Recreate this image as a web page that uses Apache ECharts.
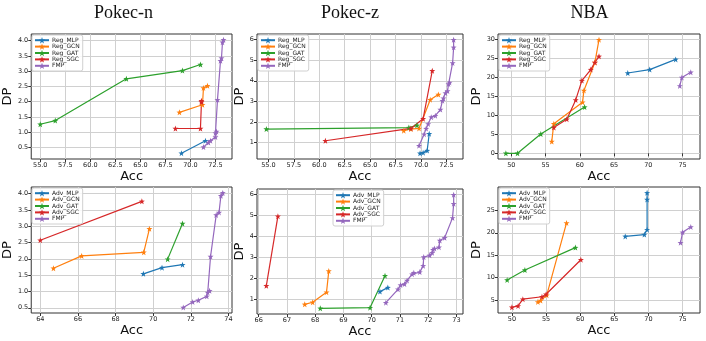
<!DOCTYPE html>
<html><head><meta charset="utf-8">
<script src="https://cdn.jsdelivr.net/npm/echarts@6/dist/echarts.min.js"></script>
<style>html,body{margin:0;padding:0;background:#fff}#c{width:706px;height:341px}</style>
</head><body><div id="c"></div>
<script>
// ---------- data ----------
const titles = ['Pokec-n', 'Pokec-z', 'NBA'];
const regNames = ['Reg_MLP', 'Reg_GCN', 'Reg_GAT', 'Reg_SGC', 'FMP'];
const advNames = ['Adv_MLP', 'Adv_GCN', 'Adv_GAT', 'Adv_SGC', 'FMP'];

// Pokec-n, regularization
const pn_reg_mlp = [[69.1,0.31],[71.5,0.72]];
const pn_reg_gcn = [[68.9,1.65],[71.2,1.90],[71.3,2.45],[71.7,2.52]];
const pn_reg_gat = [[55.0,1.26],[56.5,1.38],[63.6,2.75],[69.2,3.02],[71.0,3.22]];
const pn_reg_sgc = [[68.5,1.12],[71.0,1.12],[71.1,1.99],[71.1,2.03]];
const pn_fmp = [[71.3,0.51],[71.8,0.66],[72.0,0.72],[72.5,0.84],[72.5,0.97],[72.6,1.02],[72.7,2.06],[73.0,3.34],[73.1,3.43],[73.2,3.95],[73.3,4.03]];

// Pokec-z, regularization
const pz_reg_mlp = [[69.9,0.47],[70.2,0.50],[70.6,0.60],[70.8,1.42]];
const pz_reg_gcn = [[68.3,1.57],[69.0,1.65],[69.8,1.68],[70.9,3.08],[71.7,3.33]];
const pz_reg_gat = [[54.8,1.65],[68.8,1.72],[69.6,1.83]];
const pz_reg_sgc = [[60.6,1.08],[69.0,1.68],[70.2,2.15],[71.1,4.49]];
const pz_fmp_top = [[69.8,0.84],[70.3,1.40],[70.5,1.67],[70.7,1.90],[71.0,2.23],[71.4,2.30],[71.9,2.60],[72.1,3.03],[72.2,3.15],[72.4,3.40],[72.6,3.50],[72.7,3.84],[72.8,3.92],[73.1,4.87],[73.2,5.63],[73.2,6.00]];

// NBA, regularization
const nba_reg_mlp = [[67.0,21.2],[70.2,22.1],[74.0,24.8]];
const nba_reg_gcn = [[55.9,3.1],[56.2,7.8],[60.4,13.5],[60.6,16.6],[62.2,24.0],[62.8,30.0]];
const nba_reg_gat = [[49.2,0.0],[50.9,0.0],[54.3,5.1],[60.7,12.2]];
const nba_reg_sgc = [[56.2,6.8],[58.1,9.0],[59.4,14.1],[60.3,19.2],[61.6,22.1],[62.2,24.0],[62.8,25.6]];
const nba_fmp_top = [[74.6,17.8],[74.9,20.0],[76.2,21.4]];

// Pokec-n, adversarial
const pn_adv_mlp = [[69.48,1.54],[70.47,1.73],[71.56,1.82]];
const pn_adv_gcn = [[64.7,1.71],[66.2,2.09],[69.5,2.20],[69.8,2.92]];
const pn_adv_gat = [[70.77,1.99],[71.56,3.08]];
const pn_adv_sgc = [[64.0,2.57],[69.4,3.76]];
const pn_fmp_bot = [[71.6,0.51],[72.1,0.68],[72.4,0.73],[72.85,0.85],[72.9,0.97],[73.0,1.02],[73.05,2.07],[73.35,3.34],[73.5,3.42],[73.6,3.93],[73.7,4.02]];

// Pokec-z, adversarial
const pz_adv_mlp = [[70.29,1.37],[70.57,1.56]];
const pz_adv_gcn = [[67.63,0.76],[67.91,0.86],[68.40,1.34],[68.48,2.35]];
const pz_adv_gat = [[68.18,0.57],[69.94,0.60],[70.47,2.13]];
const pz_adv_sgc = [[66.27,1.65],[66.68,4.97]];
const pz_fmp_bot = [[70.5,0.84],[70.93,1.48],[71.02,1.68],[71.16,1.73],[71.25,1.90],[71.43,2.20],[71.49,2.27],[71.70,2.30],[71.82,2.60],[71.84,3.02],[72.05,3.10],[72.14,3.22],[72.17,3.37],[72.22,3.43],[72.38,3.49],[72.41,3.81],[72.58,3.94],[72.86,4.89],[72.90,5.57],[72.90,6.00]];

// NBA, adversarial
const nba_adv_mlp = [[66.6,19.2],[69.4,19.6],[69.8,20.7],[69.8,27.4],[69.8,28.9]];
const nba_adv_gcn = [[53.8,4.6],[54.2,4.9],[55.1,6.1],[58.0,22.2]];
const nba_adv_gat = [[49.3,9.5],[51.9,11.7],[59.3,16.7]];
const nba_adv_sgc = [[50.0,3.4],[50.9,3.7],[51.6,5.2],[54.4,5.75],[55.0,6.3],[60.1,14.0]];
const nba_fmp_bot = [[74.7,17.8],[75.0,20.1],[76.2,21.3]];

// tick labels
const xt_pn_top = [55.0,57.5,60.0,62.5,65.0,67.5,70.0,72.5];
const yt_pn = [0.5,1.0,1.5,2.0,2.5,3.0,3.5,4.0];
const xt_pz_top = [55.0,57.5,60.0,62.5,65.0,67.5,70.0,72.5];
const yt_pz = [1,2,3,4,5,6];
const xt_nba = [50,55,60,65,70,75];
const yt_nba_top = [0,5,10,15,20,25,30];
const xt_pn_bot = [64,66,68,70,72,74];
const xt_pz_bot = [66,67,68,69,70,71,72,73];
const yt_nba_bot = [5,10,15,20,25];

// ---------- styling / layout ----------
const colors = ['#1f77b4','#ff7f0e','#2ca02c','#d62728','#9467bd'];
function starPath(){
  let p = [];
  for (let i=0;i<10;i++){
    const r = i%2===0 ? 50 : 20;
    const a = -Math.PI/2 + i*Math.PI/5;
    p.push((i===0?'M':'L') + (50 + r*Math.cos(a)).toFixed(2) + ' ' + (50 + r*Math.sin(a)).toFixed(2));
  }
  return 'path://' + p.join(' ') + ' Z';
}
const STAR = starPath();

const panels = [
  {grid:{left:31,top:34,width:201,height:125}, x:[54.1,74.15], y:[0.12,4.22], xt:xt_pn_top, yt:yt_pn, xd:1, yd:1, ng:9,
   data:[pn_reg_mlp,pn_reg_gcn,pn_reg_gat,pn_reg_sgc,pn_fmp], names:regNames, leg:{left:32,top:35}},
  {grid:{left:257,top:34,width:206,height:125}, x:[53.88,74.12], y:[0.19,6.28], xt:xt_pz_top, yt:yt_pz, xd:1, yd:0, ng:5,
   data:[pz_reg_mlp,pz_reg_gcn,pz_reg_gat,pz_reg_sgc,pz_fmp_top], names:regNames, leg:{left:258,top:35}},
  {grid:{left:498,top:34,width:202,height:125}, x:[48.05,77.55], y:[-1.5,31.5], xt:xt_nba, yt:yt_nba_top, xd:0, yd:0, ng:9,
   data:[nba_reg_mlp,nba_reg_gcn,nba_reg_gat,nba_reg_sgc,nba_fmp_top], names:regNames, leg:{left:499,top:35}},
  {grid:{left:31,top:187,width:201,height:126}, x:[63.52,74.19], y:[0.34,4.2], xt:xt_pn_bot, yt:yt_pn, xd:0, yd:1, ng:9,
   data:[pn_adv_mlp,pn_adv_gcn,pn_adv_gat,pn_adv_sgc,pn_fmp_bot], names:advNames, leg:{left:32,top:188}},
  {grid:{left:257,top:189,width:206,height:125}, x:[65.94,73.23], y:[0.3,6.27], xt:xt_pz_bot, yt:yt_pz, xd:0, yd:0, ng:5,
   data:[pz_adv_mlp,pz_adv_gcn,pz_adv_gat,pz_adv_sgc,pz_fmp_bot], names:advNames, leg:{left:333,top:190}},
  {grid:{left:498,top:187,width:202,height:126}, x:[47.96,77.55], y:[2.13,30.2], xt:xt_nba, yt:yt_nba_bot, xd:0, yd:0, ng:9,
   data:[nba_adv_mlp,nba_adv_gcn,nba_adv_gat,nba_adv_sgc,nba_fmp_bot], names:advNames, leg:{left:499,top:188}}
];

const FONT = 'DejaVu Sans';
const grids=[], xAxes=[], yAxes=[], series=[], legends=[];
const gridLine = {show:true, lineStyle:{color:'#d0d0d0', width:1}};
panels.forEach((p,i)=>{
  grids.push(Object.assign({show:true, borderColor:'#333', borderWidth:1, backgroundColor:'#fff', containLabel:false}, p.grid));
  xAxes.push({type:'value', gridIndex:i, min:p.x[0], max:p.x[1],
    name:'Acc', nameLocation:'middle', nameGap:10,
    nameTextStyle:{fontFamily:FONT, fontSize:13, color:'#111'},
    axisLine:{show:false},
    axisTick:{show:true, length:3, customValues:p.xt, lineStyle:{color:'#333'}},
    axisLabel:{customValues:p.xt, fontFamily:FONT, fontSize:6.5, color:'#222', margin:3,
      formatter:v=>v.toFixed(p.xd)},
    splitLine:gridLine});
  yAxes.push({type:'value', gridIndex:i, min:p.y[0], max:p.y[1],
    name:'DP', nameLocation:'middle', nameGap:p.ng,
    nameTextStyle:{fontFamily:FONT, fontSize:13, color:'#111'},
    axisLine:{show:false},
    axisTick:{show:true, length:3, customValues:p.yt, lineStyle:{color:'#333'}},
    axisLabel:{customValues:p.yt, fontFamily:FONT, fontSize:6.5, color:'#222', margin:3,
      formatter:v=>v.toFixed(p.yd)},
    splitLine:gridLine});
  p.data.forEach((d,k)=>{
    series.push({type:'line', name:p.names[k], xAxisIndex:i, yAxisIndex:i, data:d,
      symbol:STAR, symbolSize:6, showSymbol:true, animation:false,
      lineStyle:{color:colors[k], width:1.2}, itemStyle:{color:colors[k]}});
  });
  legends.push({data:p.names, orient:'vertical', left:p.leg.left, top:p.leg.top,
    itemWidth:14, itemHeight:8, itemGap:0, padding:[2,3,2,2],
    backgroundColor:'rgba(255,255,255,0.85)', borderColor:'#d0d0d0', borderWidth:1, borderRadius:2,
    textStyle:{fontFamily:FONT, fontSize:6, color:'#222', padding:[0,0,0,-2]}, selectedMode:false});
});

const titleCenters = [123.5, 350, 589.5];
const chart = echarts.init(document.getElementById('c'), null, {renderer:'canvas'});
chart.setOption({
  animation:false,
  color:colors,
  title: titles.map((t,i)=>({text:t, left:titleCenters[i], top:4, textAlign:'center', padding:0,
    textStyle:{fontFamily:'Liberation Serif', fontSize:18, fontWeight:'normal', color:'#111'}})),
  grid:grids, xAxis:xAxes, yAxis:yAxes, legend:legends, series:series
});
</script></body></html>
